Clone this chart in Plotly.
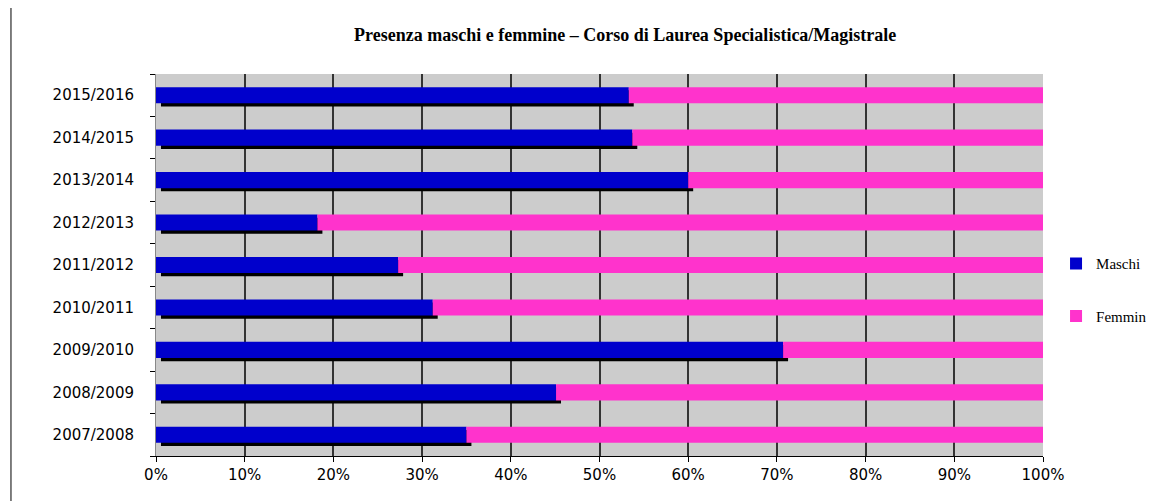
import plotly.graph_objects as go

anni = ["2007/2008", "2008/2009", "2009/2010", "2010/2011", "2011/2012",
        "2012/2013", "2013/2014", "2014/2015", "2015/2016"]
maschi = [35.0, 45.1, 70.7, 31.2, 27.3, 18.2, 60.0, 53.7, 53.3]
femmine = [100 - m for m in maschi]
tick_vals = [0, 10, 20, 30, 40, 50, 60, 70, 80, 90, 100]
tick_text = [f"{v}%" for v in tick_vals]

BLU = "#0000CC"
ROSA = "#FF33CC"

fig = go.Figure()

# ombra nera sotto le barre dei maschi
fig.add_trace(go.Bar(
    y=anni, x=maschi, base=[0.56] * len(anni), orientation="h",
    marker=dict(color="#000000", line_width=0),
    width=0.38, offset=-0.265, showlegend=False, hoverinfo="skip"))

fig.add_trace(go.Bar(
    y=anni, x=maschi, orientation="h", name="Maschi", legendgroup="m",
    marker=dict(color=BLU, line_width=0), width=0.38))

fig.add_trace(go.Bar(
    y=anni, x=femmine, base=maschi, orientation="h", name="Femmin", legendgroup="f",
    marker=dict(color=ROSA, line_width=0), width=0.38))

fig.update_layout(
    width=1154, height=501,
    barmode="overlay",
    paper_bgcolor="white",
    plot_bgcolor="#CCCCCC",
    margin=dict(l=148, r=119, t=66, b=53, autoexpand=False),
    title=dict(text="<b>Presenza maschi e femmine – Corso di Laurea Specialistica/Magistrale</b>",
               x=0.529, xref="paper", xanchor="center", y=0.946, yanchor="middle",
               font=dict(family="Liberation Serif", size=18, color="black")),
    legend=dict(x=1.0147, xanchor="left", y=0.435, yanchor="middle",
                font=dict(family="Liberation Serif", size=15, color="black"),
                tracegroupgap=30, bgcolor="rgba(0,0,0,0)"),
    font=dict(family="DejaVu Sans", size=13, color="black"),
)

fig.update_xaxes(
    range=[0, 100], tickvals=tick_vals, ticktext=tick_text,
    showgrid=True, gridcolor="#333333", gridwidth=1.5,
    showline=True, linecolor="black", linewidth=1,
    ticks="outside", ticklen=5, tickcolor="black", zeroline=False,
    tickfont=dict(family="DejaVu Sans", size=15, color="black"),
)

fig.update_yaxes(
    type="category", categoryorder="array", categoryarray=anni,
    showgrid=False, showline=True, linecolor="#888888", linewidth=1,
    ticks="outside", ticklen=5, tickcolor="black", tickson="boundaries",
    ticklabelstandoff=18,
    tickfont=dict(family="DejaVu Sans", size=15, color="black"),
)

# linea verticale del bordo a sinistra
fig.add_shape(type="line", xref="paper", yref="paper",
              x0=-0.1635, x1=-0.1635, y0=1.2, y1=-0.15,
              line=dict(color="black", width=1))

fig.write_html("out.html")
